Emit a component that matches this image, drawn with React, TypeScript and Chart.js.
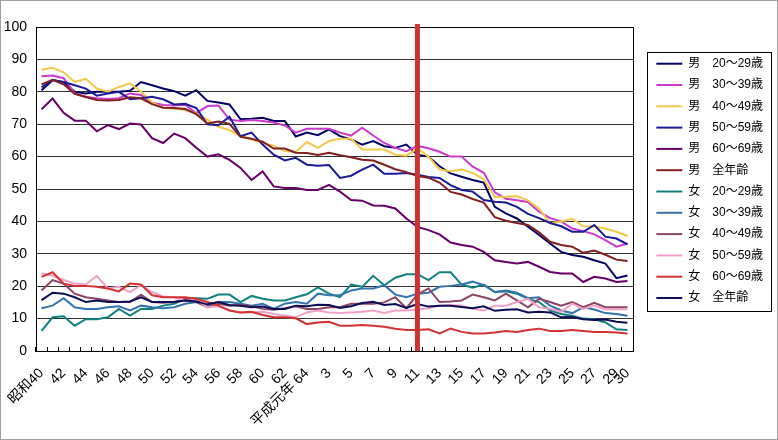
import { useEffect, useRef } from 'react'
import { Chart, registerables } from 'chart.js'

Chart.register(...registerables)

const FONT = "'Liberation Sans', 'Noto Sans CJK JP', sans-serif"

// 昭和40年(1965) ～ 平成30年(2018)
const categories = [
  '昭和40', '41', '42', '43', '44', '45', '46', '47', '48', '49',
  '50', '51', '52', '53', '54', '55', '56', '57', '58', '59',
  '60', '61', '62', '63', '平成元年 64', '2', '3', '4', '5', '6',
  '7', '8', '9', '10', '11', '12', '13', '14', '15', '16',
  '17', '18', '19', '20', '21', '22', '23', '24', '25', '26',
  '27', '28', '29', '30',
]

const tickLabels = [
  '昭和40', '', '42', '', '44', '', '46', '', '48', '',
  '50', '', '52', '', '54', '', '56', '', '58', '',
  '60', '', '62', '', '平成元年 64', '', '3', '', '5', '',
  '7', '', '9', '', '11', '', '13', '', '15', '',
  '17', '', '19', '', '21', '', '23', '', '25', '',
  '27', '', '29', '30',
]

const yTicks = [0, 10, 20, 30, 40, 50, 60, 70, 80, 90, 100]

// red marker line
const markerCategory = '11'

const male20s = [
  80.5, 83.6, 83, 80, 79.5, 80, 80, 80, 80.3, 83, 82, 81, 80.2, 78.8, 80.5, 77.2, 76.7, 76.1,
  71.5, 71.7, 72, 71, 71, 66.2, 67.4, 66.6, 68.4, 66.3, 65.3, 63.7, 64.8, 63.2, 62.7, 63.7, 60.6, 60,
  57, 54.8, 53.8, 52.8, 52, 44.5, 42.5, 40.9, 38.4, 35.8, 33.2, 30.6, 29.6, 29.1, 28, 27, 22.5, 23.3,
]
const male30s = [
  84.8, 85, 84.2, 79.5, 78.5, 78, 77.8, 78, 79.5, 79,
  76.6, 75.9, 75.8, 76, 73.4, 75.6, 75.8, 71.4, 71, 71.3, 71, 70.5, 69.6, 67.4, 68.6, 68.6, 68.6, 67.4,
  66.5, 68.9, 66.5, 64.2, 62.7, 61.7,
  63.3, 62.6, 61.5, 60, 60, 56.9, 55, 49, 47, 46.5, 46, 43, 41, 40, 37.8, 37, 36, 34.2, 32.2, 33.2,
]
const male40s = [
  86.8, 87.4, 86, 83, 84, 81, 80, 81.5, 82.6, 80, 76.7, 75, 74.8, 74.4,
  73.3, 71.4, 69.2, 68.2, 66.3, 65.3, 64.2, 63.4, 61.7, 61.4, 64.5, 62.7, 64.8, 65.5, 65.5, 62.2,
  62.2, 62.2, 60.6, 60.3,
  62.5, 60, 56, 55.5, 56, 55, 53, 47.5, 47.6, 47.8, 46.5, 44, 39.4, 40, 40.8, 38.5, 38.4, 37.8, 36.8, 35.5,
]
const male50s = [
  81.4, 83.6, 83, 82, 81, 78.8, 79.5, 80, 77.7, 78, 78.5, 77.7, 76.1, 76.3, 75, 70, 69.7, 72.3,
  66.3, 67.4, 63.7, 60.6, 58.8, 59.6, 57.5, 57.2, 57.4, 53.4, 54.1, 56, 57.5, 54.7, 54.7, 54.9, 54.4,
  53.7, 53.4,
  51.2, 49.7, 49.2, 46.6, 46.1, 45.8, 44.5, 42.3, 41, 39.5, 38.5, 36.8, 36.8, 38.9, 35.3, 34.7, 32.9,
]
const male60s = [
  74.6, 77.9, 73.5, 71.1, 71.1, 67.8, 69.7, 68.5, 70.2, 69.9, 65.7, 64.2, 67.1, 65.7,
  62.7, 60, 60.7, 59, 56.5, 52.8, 55.4, 50.8, 50.3, 50.3, 49.7, 49.7, 51.3, 49.2, 46.6, 46.4, 44.9,
  44.8, 44, 40.9,
  38.3, 37.3, 36, 33.5, 32.7, 32.2, 30.6, 28, 27.5, 27, 27.5, 26, 24.4, 23.9, 23.9, 21.3, 22.9, 22.4,
  21.3, 21.6,
]
const maleAll = [
  82.3, 83.7, 82.3, 79.4, 78.4, 77.5, 77.3, 77.5, 78.3, 78.0,
  76.2, 75.1, 75.0, 74.7, 73.1, 70.2, 70.8, 70.1, 66.1, 65.5,
  64.6, 62.5, 62.5, 61.2, 61.1, 60.5, 61.2, 60.4, 59.8, 59.0,
  58.8, 57.5, 56.1, 55.2, 54.0, 53.5, 52.0, 49.1, 48.3, 46.9,
  45.8, 41.3, 40.2, 39.5, 38.9, 36.6, 33.7, 32.7, 32.2, 30.3,
  31.0, 29.7, 28.2, 27.8,
]
const female20s = [
  6.2, 10.4, 10.7, 7.8, 9.8, 9.8, 10.4, 13, 10.9, 13, 13, 14, 14.6, 16.1, 16.3, 16.1, 17.4, 17.4,
  15.1, 17, 16.1, 15.6, 15.6, 16.6, 17.5, 19.6, 17.7, 16.6, 20.5, 19.8, 23.2, 20.3, 22.6, 23.7,
  23.7, 21.9, 24.3, 24.3, 20.5, 19.5, 20.5, 18.2, 18.4, 17.7, 16.1, 15.1, 12.5, 11.4, 10.9, 10, 9.8,
  8.8, 6.7, 6.5,
]
const female30s = [
  13.2, 14, 16.3, 13.5, 13, 13, 13.5, 13.8, 12.5, 14, 13.5, 13.2, 13.5, 14.6, 15.1, 14, 15.1,
  15.1, 14.6, 14, 14.6, 13, 14.6, 15.1, 14.6, 17.7, 17.2, 17.2, 18.7, 19.3, 19.3, 20.3, 17.4, 16.6,
  17.7, 18, 19.8, 20.1, 20.5, 21.4, 20.3, 18.2, 18.7, 18, 16.3, 16.6, 14, 12.5, 11.7, 13.5, 12.8,
  11.7, 11.4, 10.9,
]
const female40s = [
  18.7, 21.9, 20.8, 17.7, 16.6, 16.1, 15.6, 15.1, 15.1, 17.4, 15.1, 14.9, 15.1, 16.1, 15.1, 13.5, 14.6,
  14, 14.2, 13.8, 13, 12.7, 13.2, 13.8, 13, 13, 13.5, 13.5, 14.6, 14.6, 14.6, 15, 16.6, 13.2,
  17.4, 19.3, 15.1, 15.3, 15.6, 17.4, 16.6, 15.6, 17.7, 15.6, 13.5, 16.1, 15.1, 14, 15.1, 13.5, 14.9,
  13.5, 13.5, 13.5,
]
const female50s = [
  24, 23.2, 21.9, 20.8, 20.5, 23.2, 19.3, 19.8, 18.2, 20.3, 18.2, 16.8, 16.6, 15.5, 15.8, 13.5, 13.8,
  12.5, 11.9, 11.9, 12.1, 11.4, 10.9, 10.4, 11.9, 12.5, 11.9, 11.7, 11.9, 12.1, 12.5, 11.7, 12.5, 12.5,
  12.8, 13.2, 14, 14.2, 14, 13, 12.5, 14, 14, 15.1, 16.1, 13.5, 13, 12.1, 14.6, 13, 14, 12.8, 13, 12.8,
]
const female60s = [
  22.9, 24.3, 20.8, 20.1, 20.1, 19.8, 19.3, 18.4, 20.8, 20.5, 17.2, 16.6, 16.6, 16.6, 16.1, 15.1, 14,
  12.5,
  11.9, 12.1, 11.1, 10.4, 10.4, 10.1, 8.3, 8.8, 9, 7.8, 7.8, 8, 7.8, 7.5, 6.9, 6.5,
  6.5, 6.7, 5.4, 6.9, 5.9, 5.4, 5.4, 5.7, 6.2, 5.9, 6.5, 6.9, 6.2, 6.2, 6.5, 6.2, 5.9, 5.9, 5.7, 5.4,
]
const femaleAll = [
  15.7, 18.0, 17.7, 16.6, 15.1, 15.6, 15.1, 15.1, 15.3, 16.6, 15.1, 15.1, 15.1, 15.6, 15.3, 14.4,
  15.1, 14.2,
  14, 13.5, 13.7, 13, 13, 14, 13.8, 14.3, 14.2, 13.3, 13.8, 14.8, 15.2, 14.2, 14.5, 13.3,
  14.5, 13.7, 14.0, 14.0, 13.6, 13.2, 13.8, 12.4, 12.7, 12.9, 11.9, 12.1, 11.9, 10.4, 10.5, 9.8, 9.6,
  9.7, 9.0, 8.7,
]

const seriesNames = [
  '男　20～29歳', '男　30～39歳', '男　40～49歳', '男　50～59歳', '男　60～69歳', '男　全年齢',
  '女　20～29歳', '女　30～39歳', '女　40～49歳', '女　50～59歳', '女　60～69歳', '女　全年齢',
]
const seriesValues = [
  male20s, male30s, male40s, male50s, male60s, maleAll,
  female20s, female30s, female40s, female50s, female60s, femaleAll,
]
const seriesColors = [
  '#000066', '#cc3acc', '#f2c94c', '#1a1a99', '#660066', '#7f1f1f',
  '#138080', '#3573ad', '#8e4466', '#f0a0c8', '#d23232', '#0d0d55',
]

const framePlugin = {
  id: 'frame',
  beforeDatasetsDraw(chart: any) {
    const { ctx, chartArea: a } = chart
    ctx.save()
    ctx.strokeStyle = '#000'
    ctx.lineWidth = 1
    ctx.strokeRect(
      Math.round(a.left) + 0.5,
      Math.round(a.top) + 0.5,
      Math.round(a.right - a.left),
      Math.round(a.bottom - a.top),
    )
    ctx.restore()
  },
}

const markerPlugin = {
  id: 'marker',
  afterDatasetsDraw(chart: any) {
    const { ctx, chartArea: a } = chart
    const x = chart.scales.x.getPixelForValue(categories.indexOf(markerCategory))
    ctx.save()
    ctx.strokeStyle = '#cc3333'
    ctx.lineWidth = 5
    ctx.beginPath()
    ctx.moveTo(x, a.top - 3)
    ctx.lineTo(x, a.bottom)
    ctx.stroke()
    ctx.restore()
  },
}

const legendBoxPlugin = {
  id: 'legendBox',
  afterDraw(chart: any) {
    const boxes = chart.legend?.legendHitBoxes
    if (!boxes || !boxes.length) return
    const left = Math.min(...boxes.map((b: any) => b.left)) - 9
    const right = Math.max(...boxes.map((b: any) => b.left + b.width)) + 8
    const top = Math.min(...boxes.map((b: any) => b.top)) - 6
    const bottom = Math.max(...boxes.map((b: any) => b.top + b.height)) + 7
    const { ctx } = chart
    ctx.save()
    ctx.strokeStyle = '#000'
    ctx.lineWidth = 1
    ctx.strokeRect(Math.round(left) + 0.5, Math.round(top) + 0.5, Math.round(right - left), Math.round(bottom - top))
    ctx.restore()
  },
}

export default function App() {
  const chartRef = useRef<HTMLCanvasElement>(null)
  const chartInstance = useRef<Chart | null>(null)

  useEffect(() => {
    document.body.style.margin = '0'
    if (chartInstance.current) chartInstance.current.destroy()
    const ctx = chartRef.current!.getContext('2d')!

    chartInstance.current = new Chart(ctx, {
      type: 'line',
      data: {
        labels: categories,
        datasets: seriesValues.map((values, i) => ({
          label: seriesNames[i],
          data: values,
          borderColor: seriesColors[i],
          backgroundColor: seriesColors[i],
          borderWidth: 2,
          pointRadius: 0,
          tension: 0,
          order: -i, // later series on top, like the original
        })),
      },
      options: {
        animation: false,
        responsive: true,
        maintainAspectRatio: false,
        layout: { padding: { left: 3, right: 4, top: 26, bottom: 0 } },
        scales: {
          x: {
            offset: true,
            grid: {
              offset: true,
              drawOnChartArea: false,
              color: '#000',
              tickLength: -4, // tick marks point into the plot
            },
            border: { color: '#000' },
            ticks: {
              autoSkip: false,
              minRotation: 45,
              maxRotation: 45,
              padding: 18,
              color: '#000',
              font: { family: FONT, size: 14 },
              callback: (_v: any, index: number) => tickLabels[index],
            },
            afterFit: (scale: any) => {
              scale.height = 88
              scale.paddingLeft = 0
            },
          },
          y: {
            min: yTicks[0],
            max: yTicks[yTicks.length - 1],
            afterBuildTicks: (scale: any) => {
              scale.ticks = yTicks.map((v) => ({ value: v }))
            },
            grid: { color: '#333', drawTicks: false },
            border: { color: '#000' },
            ticks: {
              padding: 9,
              color: '#000',
              font: { family: FONT, size: 14 },
            },
            afterFit: (scale: any) => {
              scale.width = 32
            },
          },
          gap: {
            position: 'right',
            display: true,
            grid: { display: false, drawTicks: false },
            border: { display: false },
            ticks: { display: false },
            afterFit: (scale: any) => {
              scale.width = 14
            },
          },
        },
        plugins: {
          tooltip: { enabled: false },
          legend: {
            position: 'right',
            align: 'start',
            title: { display: true, text: ' ', padding: { top: 7, bottom: 0 }, font: { size: 12 } },
            labels: {
              usePointStyle: true,
              pointStyle: 'line',
              pointStyleWidth: 26,
              padding: 9.3,
              color: '#000',
              font: { family: FONT, size: 12 },
              sort: (a: any, b: any) => a.datasetIndex - b.datasetIndex,
            },
          },
        },
      },
      plugins: [framePlugin, markerPlugin, legendBoxPlugin],
    } as any)

    return () => {
      if (chartInstance.current) {
        chartInstance.current.destroy()
        chartInstance.current = null
      }
    }
  }, [])

  return (
    <div
      style={{
        position: 'relative',
        width: 778,
        height: 440,
        boxSizing: 'border-box',
        border: '1px solid #a0a0a0',
        background: '#fff',
      }}
    >
      <canvas ref={chartRef} />
    </div>
  )
}
